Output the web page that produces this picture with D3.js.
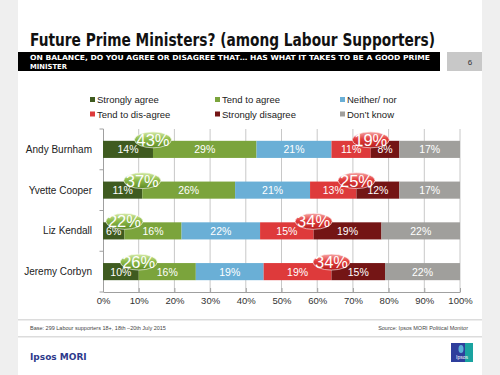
<!DOCTYPE html>
<html><head><meta charset="utf-8">
<script src="https://cdn.jsdelivr.net/npm/d3@7"></script>
<style>body{margin:0;background:#efefef;}svg{display:block;}</style>
</head><body>
<svg id="c" width="500" height="375"></svg>
<script>
const categories = ["Andy Burnham", "Yvette Cooper", "Liz Kendall", "Jeremy Corbyn"];
const seriesNames = ["Strongly agree", "Tend to agree", "Neither/ nor", "Tend to dis-agree", "Strongly disagree", "Don\u2019t know"];
const stronglyAgree = [14, 11, 6, 10];
const tendAgree = [29, 26, 16, 16];
const neither = [21, 21, 22, 19];
const tendDisagree = [11, 13, 15, 19];
const stronglyDisagree = [8, 12, 19, 15];
const dontKnow = [17, 17, 22, 22];
const totalAgree = [43, 37, 22, 26];
const totalDisagree = [19, 25, 34, 34];
const xTicks = [0, 10, 20, 30, 40, 50, 60, 70, 80, 90, 100];
const colors = ["#3f5b20", "#7ba43c", "#6aafd6", "#de3a3b", "#741515", "#a09f9c"];

const svg = d3.select("#c");
svg.append("rect").attr("x",0).attr("y",0).attr("width",500).attr("height",375).attr("fill","#efefef");
svg.append("rect").attr("x",18).attr("y",0).attr("width",464).attr("height",375).attr("fill","#ffffff");

svg.append("text").attr("x",30).attr("y",46).attr("font-family","DejaVu Sans").attr("font-weight","bold")
  .attr("font-size",17).attr("fill","#111").attr("textLength",405).attr("lengthAdjust","spacingAndGlyphs")
  .text("Future Prime Ministers? (among Labour Supporters)");
svg.append("rect").attr("x",18).attr("y",52).attr("width",422).attr("height",19).attr("fill","#000");
svg.append("text").attr("x",30).attr("y",60).attr("font-family","DejaVu Sans").attr("font-weight","bold")
  .attr("font-size",7).attr("fill","#fff").attr("textLength",400).attr("lengthAdjust","spacingAndGlyphs")
  .text("ON BALANCE, DO YOU AGREE OR DISAGREE THAT\u2026 HAS WHAT IT TAKES TO BE A GOOD PRIME");
svg.append("text").attr("x",30).attr("y",68.5).attr("font-family","DejaVu Sans").attr("font-weight","bold")
  .attr("font-size",7).attr("fill","#fff").attr("textLength",37).attr("lengthAdjust","spacingAndGlyphs")
  .text("MINISTER");
svg.append("rect").attr("x",447).attr("y",52).attr("width",35).attr("height",19).attr("fill","#c8c8c8");
svg.append("text").attr("x",470).attr("y",65).attr("text-anchor","middle").attr("font-family","Liberation Sans")
  .attr("font-size",8).attr("fill","#333").text("6");

// legend
const legX = [90, 215, 340];
const legY = [100, 114.5];
seriesNames.forEach((n,i)=>{
  const gx = legX[i%3], gy = legY[Math.floor(i/3)];
  svg.append("rect").attr("x",gx).attr("y",gy-3).attr("width",5).attr("height",5).attr("fill",colors[i]);
  svg.append("text").attr("x",gx+7).attr("y",gy+3).attr("font-family","Liberation Sans").attr("font-size",9.5)
    .attr("fill","#222").text(n);
});

const x = d3.scaleLinear().domain([0,100]).range([103,460]).clamp(true);
const y = d3.scaleBand().domain(categories).range([129,292]).paddingInner(0.58).paddingOuter(0.29);

svg.append("g").selectAll("line").data(xTicks.slice(1)).join("line")
  .attr("x1",d=>x(d)).attr("x2",d=>x(d)).attr("y1",129).attr("y2",292)
  .attr("stroke","#c8c8c8").attr("stroke-width",1);

const xa = svg.append("g").attr("transform","translate(0,292)")
  .call(d3.axisBottom(x).tickValues(xTicks).tickFormat(d=>d+"%").tickSize(4).tickSizeOuter(0));
xa.select(".domain").attr("stroke","#a0a0a0");
xa.selectAll(".tick line").attr("stroke","#a0a0a0").attr("transform","translate(0,-4)");
xa.selectAll("text").attr("font-family","Liberation Sans").attr("font-size",9.5).attr("fill","#333").attr("dy","0.5em");

svg.append("line").attr("x1",103.5).attr("x2",103.5).attr("y1",129).attr("y2",292).attr("stroke","#a0a0a0");
const sepYs = d3.range(categories.length+1).map(i=>129 + i*(163/categories.length));
svg.append("g").selectAll("line").data(sepYs).join("line")
  .attr("x1",99.5).attr("x2",103.5).attr("y1",d=>d).attr("y2",d=>d).attr("stroke","#a0a0a0");

svg.append("g").selectAll("text").data(categories).join("text")
  .attr("x",92).attr("y",d=>y(d)+y.bandwidth()/2+3.5).attr("text-anchor","end")
  .attr("font-family","Liberation Sans").attr("font-size",10).attr("fill","#222").text(d=>d);

// stacked bars (clamped at 100%, as rounded totals may exceed it)
const seriesVals = [stronglyAgree, tendAgree, neither, tendDisagree, stronglyDisagree, dontKnow];
const table = categories.map((c,i)=>{ const o={cat:c}; seriesNames.forEach((n,j)=>o[n]=seriesVals[j][i]); return o;});
const stack = d3.stack().keys(seriesNames)(table);
const bars = svg.append("g");
stack.forEach((layer,j)=>{
  const g = bars.append("g");
  g.selectAll("rect").data(layer).join("rect")
    .attr("x",d=>x(d[0])).attr("width",d=>x(d[1])-x(d[0]))
    .attr("y",d=>y(d.data.cat)).attr("height",y.bandwidth()).attr("fill",colors[j]);
  g.selectAll("text").data(layer).join("text")
    .attr("x",d=>(x(d[0])+x(d[1]))/2).attr("y",d=>y(d.data.cat)+y.bandwidth()/2+4)
    .attr("text-anchor","middle").attr("font-family","Liberation Sans").attr("font-size",10.5).attr("fill","#fff")
    .text(d=>(d[1]-d[0])+"%");
});

const defs = svg.append("defs");
const gG = defs.append("linearGradient").attr("id","gg").attr("x1",0).attr("y1",0).attr("x2",0).attr("y2",1);
gG.append("stop").attr("offset","0%").attr("stop-color","#d6ebaa");
gG.append("stop").attr("offset","45%").attr("stop-color","#8fbc4a");
gG.append("stop").attr("offset","100%").attr("stop-color","#5d8a25");
const gR = defs.append("linearGradient").attr("id","gr").attr("x1",0).attr("y1",0).attr("x2",0).attr("y2",1);
gR.append("stop").attr("offset","0%").attr("stop-color","#f6a8a8");
gR.append("stop").attr("offset","45%").attr("stop-color","#e23c3c");
gR.append("stop").attr("offset","100%").attr("stop-color","#b51f1f");

const bub = svg.append("g");
categories.forEach((c,i)=>{
  const cy = y(c) - 1;
  const ax = x(stronglyAgree[i]);
  const dx = x(stronglyAgree[i]+tendAgree[i]+neither[i]+tendDisagree[i]);
  [[ax,totalAgree[i],"url(#gg)"],[dx,totalDisagree[i],"url(#gr)"]].forEach(([cx,v,f])=>{
    bub.append("ellipse").attr("cx",cx).attr("cy",cy).attr("rx",18.5).attr("ry",8).attr("fill",f)
      .attr("stroke","#ffffff").attr("stroke-width",0.6);
    bub.append("text").attr("x",cx).attr("y",cy+6).attr("text-anchor","middle")
      .attr("font-family","Liberation Sans").attr("font-size",16.5).attr("fill","#fff").text(v+"%");
  });
});

svg.append("rect").attr("x",18).attr("y",319).attr("width",464).attr("height",1.5).attr("fill","#dcdcdc");
svg.append("text").attr("x",30).attr("y",330).attr("font-family","Liberation Sans").attr("font-size",5.5)
  .attr("fill","#444").text("Base: 299 Labour supporters 18+, 18th \u201320th  July 2015");
svg.append("text").attr("x",468).attr("y",330).attr("text-anchor","end").attr("font-family","Liberation Sans")
  .attr("font-size",5.5).attr("fill","#444").text("Source: Ipsos MORI Political Monitor");
svg.append("rect").attr("x",18).attr("y",336).attr("width",464).attr("height",1.5).attr("fill","#dcdcdc");
svg.append("text").attr("x",30).attr("y",360).attr("font-family","DejaVu Sans").attr("font-weight","bold")
  .attr("font-size",9).attr("fill","#2e3a8c").text("Ipsos MORI");
svg.append("rect").attr("x",451).attr("y",343).attr("width",22).attr("height",19).attr("fill","#1aa3a0");
svg.append("rect").attr("x",451).attr("y",343).attr("width",14).attr("height",19).attr("fill","#2e3e9c");
svg.append("ellipse").attr("cx",461).attr("cy",349).attr("rx",2.5).attr("ry",4).attr("fill","#5ab0d8");
svg.append("text").attr("x",462).attr("y",359).attr("text-anchor","middle").attr("font-family","Liberation Sans")
  .attr("font-size",5).attr("fill","#fff").text("Ipsos");
</script>
</body></html>
